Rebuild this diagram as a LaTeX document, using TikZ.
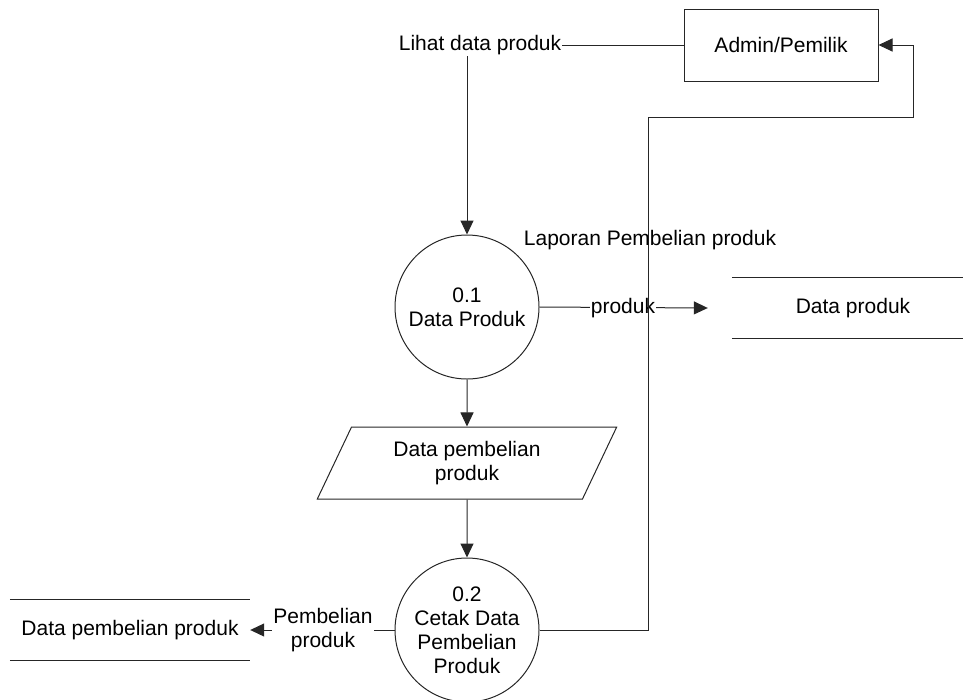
\documentclass[tikz,border=0pt]{standalone}
\usepackage{fontspec}
\setmainfont{Liberation Sans}
\usetikzlibrary{arrows.meta,shapes.geometric,calc}
\tikzset{
  conn/.style={draw=black!85, line width=1pt},
  arr/.style={conn, -{Triangle[length=14pt,width=13pt]}},
  proc/.style={circle, draw=black!85, line width=1pt, minimum size=144pt, inner sep=0pt, align=center},
  ent/.style={rectangle, draw=black!85, line width=1pt, minimum width=194pt, minimum height=72pt},
  store/.style={rectangle, minimum height=60pt, inner sep=0pt},
  flowlbl/.style={fill=white, inner sep=1pt, align=center},
  para/.style={trapezium, trapezium left angle=63.43, trapezium right angle=116.57, trapezium stretches=true, draw=black!85, line width=1pt, minimum width=300pt, minimum height=72pt, align=center, inner sep=0pt}
}
\begin{document}
\begin{tikzpicture}[x=1pt,y=-1pt, font=\fontsize{21}{24}\selectfont]
\useasboundingbox (0,0) rectangle (963,699);
% nodes
\node[ent] (admin) at (781,45) {Admin/Pemilik};
\node[proc] (p1) at (467,307) {0.1\\Data Produk};
\node[store, minimum width=242pt] (dprod) at (853,308) {Data produk};
\node[para] (dpara) at (467,463) {Data pembelian\\produk};
\node[proc] (p2) at (467,630) {0.2\\Cetak Data\\Pembelian\\Produk};
\node[store, minimum width=240pt] (dpemb) at (130,630) {Data pembelian produk};
% store lines
\draw[conn] (dprod.north west) -- (dprod.north east);
\draw[conn] (dprod.south west) -- (dprod.south east);
\draw[conn] (dpemb.north west) -- (dpemb.north east);
\draw[conn] (dpemb.south west) -- (dpemb.south east);
% Lihat data produk
\coordinate (lcorner) at (p1.north |- admin.west);
\draw[arr] (admin.west) -- (lcorner) -- (p1.north);
\node[flowlbl] (lihat) at (480,45) {Lihat data produk};
% produk flow
\coordinate (prodend) at ([xshift=-24pt]dprod.west);
\draw[arr] (p1.east) -- (prodend);
\node[flowlbl] (prodlbl) at (623,308) {produk};
% vertical flows
\draw[arr] (p1.south) -- (dpara.north);
\draw[arr] (dpara.south) -- (p2.north);
% Pembelian produk flow
\draw[arr] (p2.west) -- (dpemb.east);
\node[flowlbl] (pemblbl) at (323,630) {Pembelian\\produk};
% Laporan flow
\coordinate (c1) at (648,630);
\coordinate (c2) at (648,117);
\coordinate (c3) at (913,117);
\coordinate (c4) at (913,45);
\draw[arr] (p2.east) -- (c1) -- (c2) -- (c3) -- (c4) -- (admin.east);
\node[inner sep=0pt] (laporan) at (650,240) {Laporan Pembelian produk};
\end{tikzpicture}
\end{document}
